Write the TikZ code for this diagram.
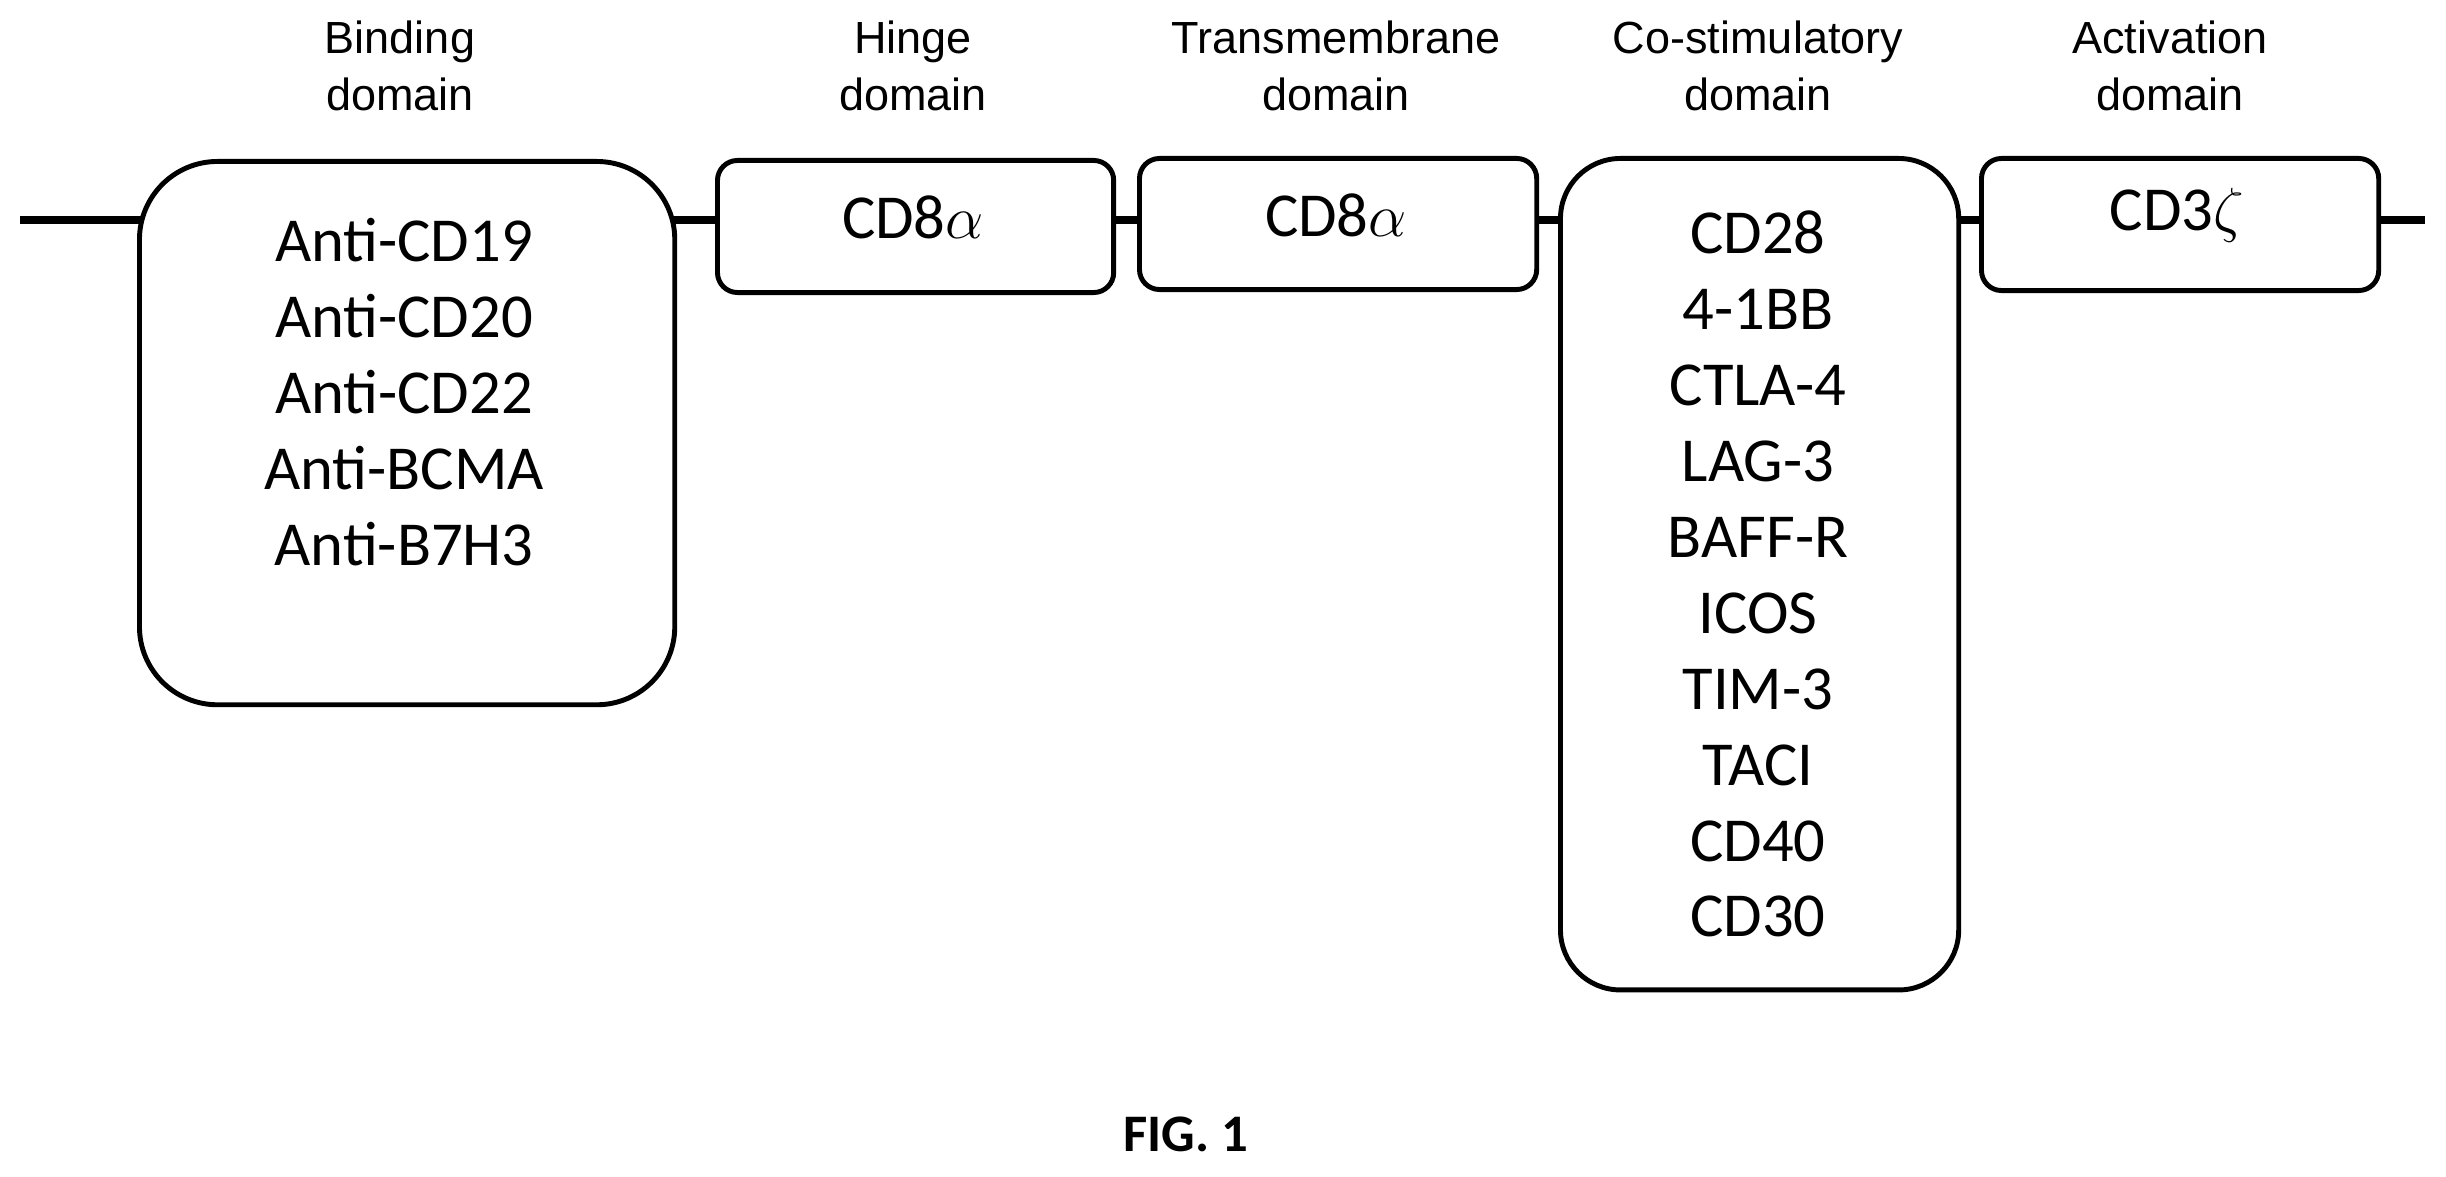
\documentclass[tikz,border=0pt]{standalone}
\usepackage{fontspec}
\setmainfont{Carlito}
\newfontfamily\lab{Liberation Sans}
\begin{document}
\begin{tikzpicture}[x=0.01cm,y=-0.01cm,
  dom/.style={draw,line width=1.4pt,fill=white,rounded corners=#1,anchor=north west,inner sep=0pt},
  txt/.style={align=center,font=\fontsize{17.8}{21.6}\selectfont,inner sep=0pt},
  lbl/.style={align=center,font=\lab\fontsize{12.8}{16.2}\selectfont}]
\useasboundingbox (0,0) rectangle (2446,1176);
\coordinate (L) at (20,220);
\coordinate (R) at (2425,220);
\draw[line width=2.2pt] (L) -- (R);
\node[dom=0.78cm,minimum width=5.35cm,minimum height=5.43cm] (bind) at (137,159) {};
\node[dom=0.2cm,minimum width=3.96cm,minimum height=1.32cm] (hinge) at (715,158) {};
\node[dom=0.2cm,minimum width=3.97cm,minimum height=1.31cm] (tm) at (1137,156) {};
\node[dom=0.6cm,minimum width=3.98cm,minimum height=8.31cm] (cos) at (1558,156) {};
\node[dom=0.2cm,minimum width=3.97cm,minimum height=1.32cm] (act) at (1979,156) {};
\node[txt] (bindt) at (404,392) {Anti-CD19\\Anti-CD20\\Anti-CD22\\Anti-BCMA\\Anti-B7H3};
\node[txt] (hinget) at (913,217) {CD8$\alpha$};
\node[txt] (tmt) at (1336,215) {CD8$\alpha$};
\node[txt] (cost) at (1758,574) {CD28\\4-1BB\\CTLA-4\\LAG-3\\BAFF-R\\ICOS\\TIM-3\\TACI\\CD40\\CD30};
\node[txt] (actt) at (2177,215) {CD3$\zeta$};
\node[lbl] (l1) at (400,66) {Binding\\domain};
\node[lbl] (l2) at (913,66) {Hinge\\domain};
\node[lbl] (l3) at (1336,66) {Transmembrane\\domain};
\node[lbl] (l4) at (1758,66) {Co-stimulatory\\domain};
\node[lbl] (l5) at (2170,66) {Activation\\domain};
\node[font=\bfseries\fontsize{15}{18}\selectfont] (fig) at (1186,1134) {FIG. 1};
\end{tikzpicture}
\end{document}
